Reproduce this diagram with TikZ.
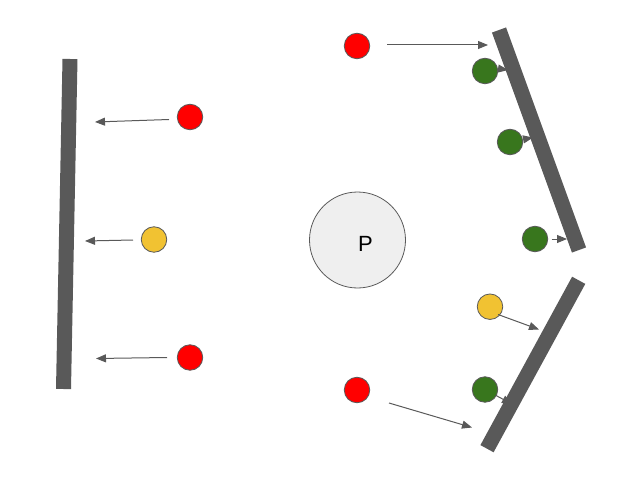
\documentclass[tikz,border=0pt]{standalone}
\usepackage{fontspec}
\setmainfont{Liberation Sans}
\usetikzlibrary{arrows.meta}
\definecolor{wallgray}{HTML}{595959}
\definecolor{ballred}{HTML}{FF0000}
\definecolor{ballyellow}{HTML}{F1C232}
\definecolor{ballgreen}{HTML}{38761D}
\definecolor{pfill}{HTML}{EFEFEF}
\tikzset{
  wall/.style={draw=wallgray, line width=15pt, line cap=butt},
  ball/.style={circle, draw=wallgray, line width=0.8pt, minimum size=25.5pt, inner sep=0pt},
  redball/.style={ball, fill=ballred},
  yellowball/.style={ball, fill=ballyellow},
  greenball/.style={ball, fill=ballgreen},
  motion/.style={draw=wallgray, line width=1pt, -{Triangle[length=10pt,width=8pt]}},
}
\begin{document}
\begin{tikzpicture}[x=1pt,y=-1pt]
\useasboundingbox (0,0) rectangle (634,481);
% walls coordinates
\coordinate (wL1) at (70,59);
\coordinate (wL2) at (63.5,389);
\coordinate (wR1) at (499,30);
\coordinate (wR2) at (579,250);
\coordinate (wS1) at (578.7,280.3);
\coordinate (wS2) at (487,448.7);
% nodes
\node[redball] (r1) at (190,117) {};
\node[yellowball] (y1) at (154,239.5) {};
\node[redball] (r2) at (190,357.5) {};
\node[redball] (r3) at (357,46) {};
\node[redball] (r4) at (357,390) {};
\node[circle, draw=wallgray, fill=pfill, line width=0.8pt, minimum size=96pt, inner sep=0pt] (P) at (357.5,240) {};
\node[font=\fontsize{22pt}{22pt}\selectfont, inner sep=0pt] (Pt) at (365.5,243.5) {P};
\node[greenball] (g1) at (485,71) {};
\node[greenball] (g2) at (510,142) {};
\node[greenball] (g3) at (535,239) {};
\node[yellowball] (y2) at (490,306.7) {};
\node[greenball] (g4) at (485,389.5) {};
% arrow endpoints
\coordinate (a1s) at (169,119.5); \coordinate (a1e) at (95,122);
\coordinate (a2s) at (133,240); \coordinate (a2e) at (85,241);
\coordinate (a3s) at (167,357.5); \coordinate (a3e) at (96,358.5);
\coordinate (a4s) at (387,45); \coordinate (a4e) at (488,45);
\coordinate (a5s) at (389,403); \coordinate (a5e) at (472,427.5);
\coordinate (a6s) at (498,314.5); \coordinate (a6e) at (539,329.5);
\coordinate (a7s) at (496,395.5); \coordinate (a7e) at (512,404);
\coordinate (a8s) at (497.5,68.5); \coordinate (a8e) at (508,70);
\coordinate (a9s) at (522.5,139.5); \coordinate (a9e) at (533,137.5);
\coordinate (a10s) at (551.5,239); \coordinate (a10e) at (567,239);
% arrows
\draw[motion] (a1s) -- (a1e);
\draw[motion] (a2s) -- (a2e);
\draw[motion] (a3s) -- (a3e);
\draw[motion] (a4s) -- (a4e);
\draw[motion] (a5s) -- (a5e);
\draw[motion] (a6s) -- (a6e);
\draw[motion] (a7s) -- (a7e);
% walls
\draw[wall] (wL1) -- (wL2);
\draw[wall] (wR1) -- (wR2);
\draw[wall] (wS1) -- (wS2);
% arrows over wall
\draw[motion] (a8s) -- (a8e);
\draw[motion] (a9s) -- (a9e);
\draw[motion] (a10s) -- (a10e);
\end{tikzpicture}
\end{document}
